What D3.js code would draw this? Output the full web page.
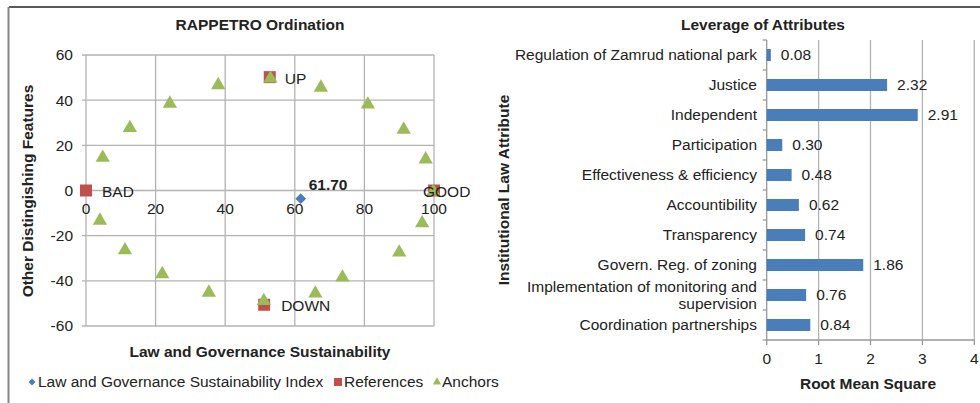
<!DOCTYPE html>
<html>
<head>
<meta charset="utf-8">
<script src="https://cdn.jsdelivr.net/npm/d3@7"></script>
<style>
  body { margin: 0; background: #fff; }
  svg { font-family: "Liberation Sans", Arial, sans-serif; display: block; }
  .grid line { stroke: #b3b3b3; stroke-width: 1.3; }
  .axis text { font-size: 15.5px; fill: #222; }
  .title { font-size: 15.5px; font-weight: bold; fill: #222; }
</style>
</head>
<body>
<div id="chart"></div>
<script>
// ---- ordination data ----
const indexPoint = [{ x: 61.70, y: -3.6, label: '61.70' }];
const references = [
  { x: 0, y: 0, label: 'BAD' },
  { x: 100, y: 0, label: 'GOOD' },
  { x: 52.8, y: 50.2, label: 'UP' },
  { x: 51.2, y: -50.6, label: 'DOWN' }
];
const anchorsX = [4.8, 12.6, 24.1, 38.0, 53.0, 67.5, 81.0, 91.3, 97.6, 99.8,
                  4.0, 11.2, 21.9, 35.3, 51.1, 65.9, 73.7, 90.0, 96.6];
const anchorsY = [14.5, 27.7, 38.5, 46.7, 49.6, 45.6, 38.1, 27.0, 13.8, -0.5,
                  -13.3, -26.4, -37.0, -45.2, -48.9, -45.6, -38.5, -27.4, -14.5];
const xTicks = [0, 20, 40, 60, 80, 100];
const yTicks = [60, 40, 20, 0, -20, -40, -60];

// ---- leverage data ----
const attributes = [
  'Regulation of Zamrud national park',
  'Justice',
  'Independent',
  'Participation',
  'Effectiveness & efficiency',
  'Accountibility',
  'Transparency',
  'Govern. Reg. of zoning',
  'Implementation of monitoring and supervision',
  'Coordination partnerships'
];
const rms = [0.08, 2.32, 2.91, 0.30, 0.48, 0.62, 0.74, 1.86, 0.76, 0.84];
const rmsTicks = [0, 1, 2, 3, 4];

const blue = '#4a7ebb', red = '#c0504d', green = '#9bbb59';

const svg = d3.select('#chart').append('svg')
    .attr('width', 980).attr('height', 403);

// frame lines
svg.append('line').attr('x1', 9).attr('x2', 980).attr('y1', 7).attr('y2', 7)
    .attr('stroke', '#222').attr('stroke-width', 1.5);
svg.append('line').attr('x1', 8.5).attr('x2', 8.5).attr('y1', 7).attr('y2', 403)
    .attr('stroke', '#888').attr('stroke-width', 2);

// ================= left: ordination =================
const x = d3.scaleLinear().domain([0, 100]).range([86, 434]);
const y = d3.scaleLinear().domain([-60, 60]).range([326, 55]);

const gl = svg.append('g');
gl.append('g').attr('class', 'grid')
  .selectAll('line.v').data(xTicks).join('line')
    .attr('x1', d => x(d)).attr('x2', d => x(d)).attr('y1', y(60)).attr('y2', y(-60));
gl.append('g').attr('class', 'grid')
  .selectAll('line.h').data(yTicks).join('line')
    .attr('x1', x(0) - 4).attr('x2', x(100)).attr('y1', d => y(d)).attr('y2', d => y(d));

// y tick labels
gl.append('g').attr('class', 'axis').selectAll('text').data(yTicks).join('text')
    .attr('x', 73).attr('y', d => y(d)).attr('dy', '0.35em').attr('text-anchor', 'end')
    .text(d => d);
// x tick labels sit under the y = 0 line
gl.append('g').attr('class', 'axis').selectAll('text').data(xTicks).join('text')
    .attr('x', d => x(d)).attr('y', y(0) + 18).attr('dy', '0.35em').attr('text-anchor', 'middle')
    .text(d => d);

gl.append('text').attr('class', 'title').attr('x', 260).attr('y', 25)
    .attr('text-anchor', 'middle').attr('dy', '0.35em').text('RAPPETRO Ordination');
gl.append('text').attr('class', 'title').attr('x', 260).attr('y', 352)
    .attr('text-anchor', 'middle').attr('dy', '0.35em').text('Law and Governance Sustainability');
gl.append('text').attr('class', 'title')
    .attr('transform', 'translate(28,191) rotate(-90)')
    .attr('text-anchor', 'middle').attr('dy', '0.35em').text('Other Distingishing Features');

// index point (diamond = rotated square)
gl.selectAll('path.idx').data(indexPoint).join('path')
    .attr('transform', d => `translate(${x(d.x)},${y(d.y)}) rotate(45)`)
    .attr('d', d3.symbol(d3.symbolSquare, 58)).attr('fill', blue);
gl.selectAll('text.idx').data(indexPoint).join('text')
    .attr('x', d => x(d.x) + 8).attr('y', d => y(d.y) - 14).attr('dy', '0.35em')
    .attr('font-size', 15.5).attr('font-weight', 'bold').attr('fill', '#222')
    .text(d => d.label);

// references
gl.selectAll('rect.ref').data(references).join('rect')
    .attr('x', d => x(d.x) - 6).attr('y', d => y(d.y) - 6)
    .attr('width', 12).attr('height', 12).attr('fill', red);

// anchors
const anchors = anchorsX.map((v, i) => ({ x: v, y: anchorsY[i] }));
gl.selectAll('path.anc').data(anchors).join('path')
    .attr('transform', d => `translate(${x(d.x)},${y(d.y)})`)
    .attr('d', d3.symbol(d3.symbolTriangle, 88)).attr('fill', green);

// reference labels
const refOffset = { BAD: 16, GOOD: -11, UP: 15, DOWN: 17 };
gl.selectAll('text.ref').data(references).join('text')
    .attr('x', d => x(d.x) + refOffset[d.label]).attr('y', d => y(d.y) + 1).attr('dy', '0.35em')
    .attr('font-size', 15.5).attr('fill', '#222').text(d => d.label);

// legend
const lg = svg.append('g').attr('font-size', 15.5).attr('fill', '#222');
lg.append('path').attr('transform', 'translate(32,382) rotate(45)')
    .attr('d', d3.symbol(d3.symbolSquare, 24)).attr('fill', blue);
lg.append('text').attr('x', 38).attr('y', 382).attr('dy', '0.35em')
    .text('Law and Governance Sustainability Index');
lg.append('rect').attr('x', 334).attr('y', 378).attr('width', 8).attr('height', 8).attr('fill', red);
lg.append('text').attr('x', 344).attr('y', 382).attr('dy', '0.35em').text('References');
lg.append('path').attr('transform', 'translate(437,382)')
    .attr('d', d3.symbol(d3.symbolTriangle, 30)).attr('fill', green);
lg.append('text').attr('x', 442).attr('y', 382).attr('dy', '0.35em').text('Anchors');

// ================= right: leverage =================
const xr = d3.scaleLinear().domain([0, 4]).range([766.7, 974.3]);
const yr = d3.scaleBand().domain(attributes).range([40, 340]).paddingInner(0.6).paddingOuter(0.3);
const step = yr.step();

const gr = svg.append('g');
gr.append('g').attr('class', 'grid').selectAll('line').data(rmsTicks.slice(1)).join('line')
    .attr('x1', d => xr(d)).attr('x2', d => xr(d)).attr('y1', 40).attr('y2', 340);
// axes
gr.append('line').attr('x1', xr(0)).attr('x2', xr(0)).attr('y1', 40).attr('y2', 340)
    .attr('stroke', '#999').attr('stroke-width', 1.3);
gr.append('line').attr('x1', xr(0)).attr('x2', xr(4)).attr('y1', 340).attr('y2', 340)
    .attr('stroke', '#999').attr('stroke-width', 1.3);
gr.selectAll('line.ytick').data(d3.range(attributes.length + 1)).join('line')
    .attr('x1', xr(0) - 4).attr('x2', xr(0)).attr('y1', i => 40 + i * step).attr('y2', i => 40 + i * step)
    .attr('stroke', '#999').attr('stroke-width', 1.3);
gr.selectAll('line.xtick').data(rmsTicks).join('line')
    .attr('x1', d => xr(d)).attr('x2', d => xr(d)).attr('y1', 340).attr('y2', 345)
    .attr('stroke', '#999').attr('stroke-width', 1.3);

gr.append('g').attr('class', 'axis').selectAll('text').data(rmsTicks).join('text')
    .attr('x', d => xr(d)).attr('y', 359).attr('dy', '0.35em').attr('text-anchor', 'middle')
    .text(d => d);

// bars
gr.selectAll('rect.bar').data(attributes).join('rect')
    .attr('x', xr(0)).attr('y', d => yr(d))
    .attr('width', (d, i) => xr(rms[i]) - xr(0)).attr('height', yr.bandwidth())
    .attr('fill', blue);
gr.selectAll('text.val').data(attributes).join('text')
    .attr('x', (d, i) => xr(rms[i]) + 10).attr('y', d => yr(d) + yr.bandwidth() / 2)
    .attr('dy', '0.35em').attr('font-size', 15.5).attr('fill', '#222')
    .text((d, i) => rms[i].toFixed(2));

// category labels, long one wrapped on two lines
const cat = gr.append('g').attr('class', 'axis').selectAll('text').data(attributes).join('text')
    .attr('x', 757).attr('y', d => yr(d) + yr.bandwidth() / 2).attr('text-anchor', 'end');
cat.each(function (d) {
  const t = d3.select(this);
  if (d.startsWith('Implementation')) {
    t.append('tspan').attr('x', 757).attr('dy', '-0.22em').text('Implementation of monitoring and');
    t.append('tspan').attr('x', 757).attr('dy', '1.14em').text('supervision');
  } else {
    t.attr('dy', '0.35em').text(d);
  }
});

gr.append('text').attr('class', 'title').attr('x', 763).attr('y', 25)
    .attr('text-anchor', 'middle').attr('dy', '0.35em').text('Leverage of Attributes');
gr.append('text').attr('class', 'title').attr('x', 868).attr('y', 384)
    .attr('text-anchor', 'middle').attr('dy', '0.35em').text('Root Mean Square');
gr.append('text').attr('class', 'title')
    .attr('transform', 'translate(504,190) rotate(-90)')
    .attr('text-anchor', 'middle').attr('dy', '0.35em').text('Institutional Law Attribute');
</script>
</body>
</html>
